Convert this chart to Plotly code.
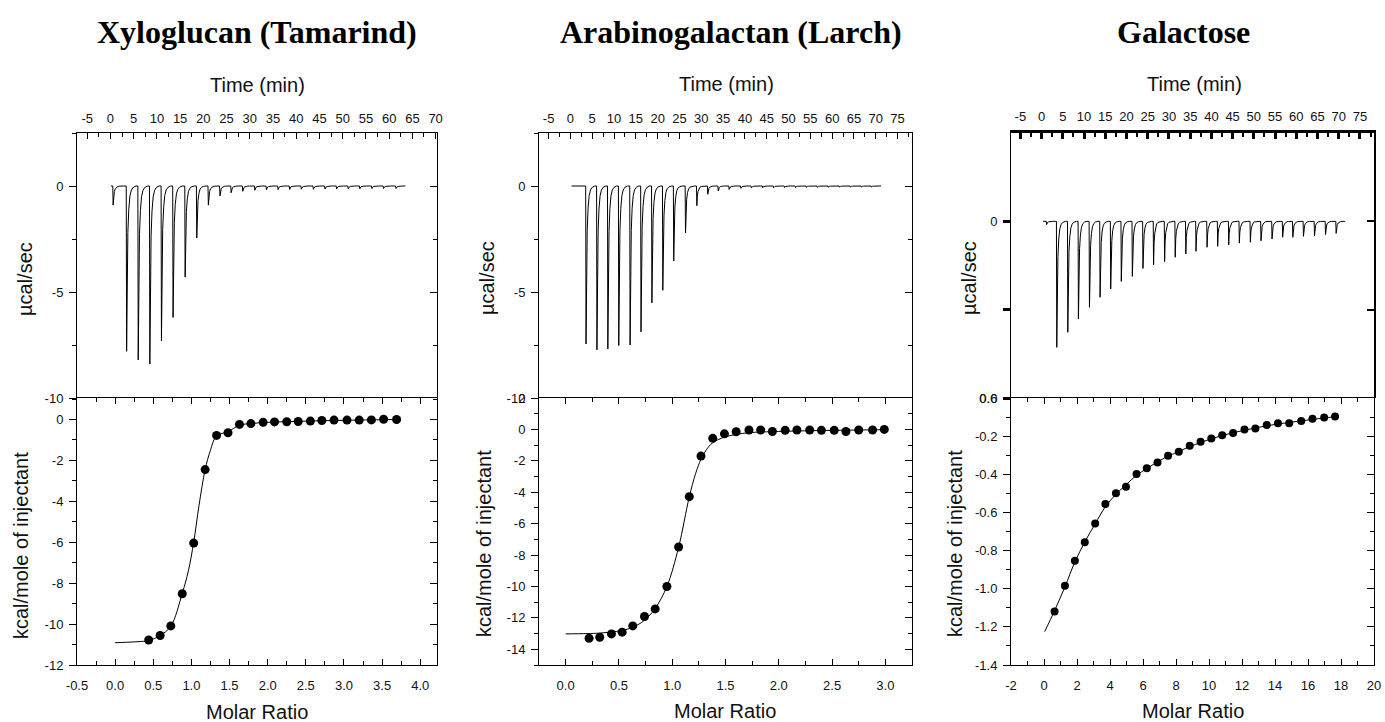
import plotly.graph_objects as go

W, H = 1385, 722

# ---------------- data ----------------
titles = ["Xyloglucan (Tamarind)", "Arabinogalactan (Larch)", "Galactose"]

# Raw thermograms: injection times (min) and peak minima (µcal/sec)
inj_t1 = [0.5, 3.4, 5.9, 8.4, 10.9, 13.4, 16.0, 18.5, 21.0, 23.5, 25.9, 28.4, 31.0,
          33.5, 36.0, 38.5, 41.0, 43.6, 46.1, 48.6, 51.1, 53.6, 56.2, 58.7, 61.4]
inj_d1 = [-0.9, -7.8, -8.2, -8.4, -7.3, -6.2, -4.3, -2.45, -0.9, -0.47, -0.32, -0.25, -0.2,
          -0.18, -0.17, -0.16, -0.15, -0.15, -0.14, -0.14, -0.13, -0.13, -0.12, -0.12, -0.12]
base1 = [0.1, 63.5]

inj_t2 = [3.5, 6.0, 8.5, 11.0, 13.6, 16.1, 18.6, 21.1, 23.6, 26.3, 28.9, 31.4, 33.8, 36.3,
          39.0, 41.4, 44.0, 46.5, 49.0, 51.5, 54.0, 56.5, 59.0, 61.6, 64.1, 66.6, 68.9]
inj_d2 = [-7.45, -7.73, -7.69, -7.53, -7.5, -6.88, -5.51, -4.92, -3.54, -2.22, -0.93, -0.39,
          -0.23, -0.16, -0.11, -0.09, -0.08, -0.08, -0.07, -0.07, -0.06, -0.06, -0.06, -0.05,
          -0.05, -0.05, -0.05]
base2 = [0.25, 71.2]

inj_t3 = [1.1, 3.5, 6.1, 8.6, 11.2, 13.7, 16.2, 18.7, 21.3, 23.8, 26.3, 28.9, 31.4, 33.9,
          36.3, 38.9, 41.4, 44.0, 46.5, 49.1, 51.6, 54.2, 56.7, 59.1, 61.6, 64.2, 66.8, 69.3]
inj_d3 = [-0.011, -0.428, -0.377, -0.332, -0.292, -0.258, -0.23, -0.204, -0.187, -0.16,
          -0.148, -0.137, -0.122, -0.111, -0.102, -0.088, -0.085, -0.08, -0.074, -0.071,
          -0.066, -0.06, -0.054, -0.054, -0.051, -0.049, -0.045, -0.041]
base3 = [0.34, 71.5]

# peak profile (relative time after injection, fraction of peak depth) - shape style
peak_dt = [0.0, 0.08, 0.2, 0.35, 0.55, 0.8, 1.1, 1.5, 2.1]
peak_fr = [0.0, 1.0, 0.5, 0.28, 0.14, 0.06, 0.025, 0.008, 0.0]

# Integrated heats (kcal/mole of injectant) vs molar ratio
mr1 = [0.44, 0.59, 0.73, 0.88, 1.03, 1.18, 1.33, 1.48, 1.63, 1.78, 1.94, 2.09, 2.25, 2.40,
       2.56, 2.71, 2.87, 3.04, 3.20, 3.36, 3.52, 3.69]
dh1 = [-10.78, -10.56, -10.09, -8.52, -6.04, -2.45, -0.78, -0.65, -0.24, -0.2, -0.14, -0.12,
       -0.11, -0.1, -0.08, -0.05, -0.03, -0.03, -0.03, -0.02, 0.01, 0.0]
fit1_x = [0.0, 0.15, 0.3, 0.44, 0.59, 0.73, 0.88, 0.96, 1.03, 1.1, 1.18, 1.25, 1.33, 1.48,
          1.63, 1.78, 2.0, 2.5, 3.0, 3.7]
fit1_y = [-10.91, -10.89, -10.86, -10.8, -10.56, -10.1, -8.5, -7.4, -6.0, -4.2, -2.45, -1.5,
          -0.8, -0.6, -0.28, -0.2, -0.14, -0.08, -0.04, 0.0]

mr2 = [0.22, 0.32, 0.43, 0.53, 0.63, 0.74, 0.84, 0.95, 1.06, 1.16, 1.27, 1.38, 1.49, 1.60,
       1.72, 1.83, 1.94, 2.06, 2.17, 2.29, 2.40, 2.52, 2.63, 2.75, 2.88, 2.99]
dh2 = [-13.3, -13.23, -13.02, -12.91, -12.51, -11.91, -11.43, -10.0, -7.49, -4.28, -1.70,
       -0.57, -0.28, -0.15, -0.04, -0.04, -0.13, -0.06, -0.04, -0.04, -0.06, -0.06, -0.13,
       -0.04, -0.04, 0.0]
fit2_x = [0.0, 0.2, 0.32, 0.43, 0.53, 0.63, 0.74, 0.84, 0.95, 1.06, 1.16, 1.22, 1.27, 1.32,
          1.38, 1.49, 1.6, 1.72, 2.0, 2.5, 3.0]
fit2_y = [-13.02, -13.0, -12.97, -12.9, -12.8, -12.6, -12.15, -11.4, -10.0, -7.5, -4.3, -2.8,
          -1.9, -1.3, -0.85, -0.49, -0.32, -0.21, -0.13, -0.06, -0.02]

mr3 = [0.64, 1.27, 1.87, 2.47, 3.10, 3.72, 4.36, 4.97, 5.61, 6.23, 6.88, 7.52, 8.17, 8.83,
       9.49, 10.14, 10.80, 11.46, 12.15, 12.81, 13.50, 14.18, 14.86, 15.59, 16.27, 16.98, 17.64]
dh3 = [-1.12, -0.984, -0.853, -0.757, -0.658, -0.556, -0.50, -0.466, -0.399, -0.368, -0.338,
       -0.303, -0.282, -0.251, -0.230, -0.212, -0.195, -0.183, -0.165, -0.16, -0.142, -0.132,
       -0.132, -0.12, -0.109, -0.102, -0.097]
fit3_x = [0.04, 0.64, 1.27, 1.87, 2.47, 3.10, 3.72, 4.36, 4.97, 5.61, 6.23, 6.88, 7.52, 8.17,
          8.83, 9.49, 10.14, 10.80, 11.46, 12.15, 12.81, 13.50, 14.18, 14.86, 15.59, 16.27,
          16.98, 17.64]
fit3_y = [-1.225, -1.115, -0.99, -0.86, -0.755, -0.66, -0.57, -0.505, -0.455, -0.405, -0.37,
          -0.335, -0.305, -0.28, -0.255, -0.233, -0.214, -0.197, -0.182, -0.169, -0.157,
          -0.146, -0.136, -0.128, -0.12, -0.112, -0.105, -0.098]

# tick values / labels
time_ticks = [[-5, 0, 5, 10, 15, 20, 25, 30, 35, 40, 45, 50, 55, 60, 65, 70],
              [-5, 0, 5, 10, 15, 20, 25, 30, 35, 40, 45, 50, 55, 60, 65, 70, 75],
              [-5, 0, 5, 10, 15, 20, 25, 30, 35, 40, 45, 50, 55, 60, 65, 70, 75]]
raw_ticks = [[-10, -5, 0], [-10, -5, 0], [-0.6, -0.3, 0.0]]
raw_labels = [["-10", "-5", "0"], ["-10", "-5", "0"], ["0.6", "", "0"]]
mr_ticks = [[-0.5, 0.0, 0.5, 1.0, 1.5, 2.0, 2.5, 3.0, 3.5, 4.0],
            [0.0, 0.5, 1.0, 1.5, 2.0, 2.5, 3.0],
            [-2, 0, 2, 4, 6, 8, 10, 12, 14, 16, 18, 20]]
heat_ticks = [[-12, -10, -8, -6, -4, -2, 0],
              [-14, -12, -10, -8, -6, -4, -2, 0, 2],
              [-1.4, -1.2, -1.0, -0.8, -0.6, -0.4, -0.2, 0.0]]

# ---------------- layout geometry (pixels) ----------------
cols = [(77, 437), (539, 912), (1011, 1374)]
top_y = (133, 398)
bot_y = (398, 665)

time_ranges = [[-7.2, 70.3], [-7.2, 78.3], [-7.2, 78.3]]
raw_ranges = [[-10, 2.5], [-10, 2.5], [-0.6, 0.3]]
raw_minor = [2.5, 2.5, None]
mr_ranges = [[-0.5, 4.22], [-0.25, 3.25], [-2, 20]]
mr_minor = [0.25, 0.25, 1]
heat_ranges = [[-12, 1.05], [-15, 2], [-1.4, 0.0]]
heat_minor = [1, 1, 0.1]
mr_fmt = ["{:.1f}", "{:.1f}", "{:d}"]
heat_fmt = ["{:d}", "{:d}", "{:.1f}"]

TICKFONT = dict(family="Liberation Sans", size=13, color="#111111")
TITLEFONT = dict(family="Liberation Sans", size=20, color="#111111")


def px_x(p):
    return p / W


def px_y(p):
    return 1 - p / H


def thermogram(ts, ds, base):
    xs, ys = [base[0]], [0.0]
    for t, d in zip(ts, ds):
        for dt, fr in zip(peak_dt, peak_fr):
            xs.append(t + dt)
            ys.append(d * fr)
    xs.append(base[1])
    ys.append(0.0)
    return xs, ys


def minor(direction, dt, width=1):
    if dt is None:
        return dict(ticks="", showgrid=False)
    return dict(ticks=direction, ticklen=4, dtick=dt, tick0=0, tickcolor="black",
                tickwidth=width, showgrid=False)


common = dict(showgrid=False, zeroline=False, automargin=False, tickcolor="black",
              linecolor="black", showline=True, tickfont=TICKFONT)

fig = go.Figure()
raw = [(inj_t1, inj_d1, base1), (inj_t2, inj_d2, base2), (inj_t3, inj_d3, base3)]
pts = [(mr1, dh1, fit1_x, fit1_y, 9), (mr2, dh2, fit2_x, fit2_y, 9), (mr3, dh3, fit3_x, fit3_y, 8)]

layout = {}
for i in range(3):
    it, ib = 2 * i + 1, 2 * i + 2
    ov_t, ov_b = 7 + 2 * i, 8 + 2 * i
    L, R = cols[i]
    gal = (i == 2)

    xs, ys = thermogram(*raw[i])
    fig.add_trace(go.Scatter(x=xs, y=ys, mode="lines", line=dict(color="black", width=1),
                             xaxis=f"x{it}", yaxis=f"y{it}", showlegend=False, hoverinfo="skip"))
    mx, my, fx, fy, ms = pts[i]
    fig.add_trace(go.Scatter(x=fx, y=fy, mode="lines", line=dict(color="black", width=1),
                             line_shape="spline",
                             xaxis=f"x{ib}", yaxis=f"y{ib}", showlegend=False, hoverinfo="skip"))
    fig.add_trace(go.Scatter(x=mx, y=my, mode="markers", marker=dict(color="black", size=ms),
                             xaxis=f"x{ib}", yaxis=f"y{ib}", showlegend=False))
    fig.add_trace(go.Scatter(x=[None], y=[None], xaxis=f"x{it}", yaxis=f"y{ov_t}",
                             showlegend=False, hoverinfo="skip"))
    fig.add_trace(go.Scatter(x=[None], y=[None], xaxis=f"x{ib}", yaxis=f"y{ov_b}",
                             showlegend=False, hoverinfo="skip"))

    dom_x = [px_x(L), px_x(R)]
    layout[f"xaxis{it}"] = dict(
        common, domain=dom_x, anchor=f"y{it}", side="top", range=time_ranges[i],
        tickvals=time_ticks[i], ticktext=[str(v) for v in time_ticks[i]],
        ticks="inside", ticklen=6, tickwidth=2.5 if gal else 1,
        linewidth=2.5 if gal else 1, mirror=False, ticklabelstandoff=4,
        minor=minor("inside", 2.5, 2 if gal else 1))
    layout[f"yaxis{it}"] = dict(
        common, domain=[px_y(top_y[1]), px_y(top_y[0])], anchor=f"x{it}",
        range=raw_ranges[i], tickvals=raw_ticks[i], ticktext=raw_labels[i],
        ticks="outside", ticklen=7, tickwidth=2.5 if gal else 1, linewidth=1,
        ticklabelstandoff=3, minor=minor("outside", raw_minor[i]))
    layout[f"yaxis{ov_t}"] = dict(
        common, overlaying=f"y{it}", side="right", anchor=f"x{it}", range=raw_ranges[i],
        tickvals=raw_ticks[i], ticks="inside", ticklen=7, tickwidth=2 if gal else 1,
        linewidth=2 if gal else 1, showticklabels=False, minor=minor("inside", raw_minor[i]))

    layout[f"xaxis{ib}"] = dict(
        common, domain=dom_x, anchor=f"y{ib}", side="bottom", range=mr_ranges[i],
        tickvals=mr_ticks[i], ticktext=[mr_fmt[i].format(v) for v in mr_ticks[i]],
        ticks="inside", ticklen=6, linewidth=1, mirror="ticks", ticklabelstandoff=8,
        minor=minor("inside", mr_minor[i]))
    layout[f"yaxis{ib}"] = dict(
        common, domain=[px_y(bot_y[1]), px_y(bot_y[0])], anchor=f"x{ib}",
        range=heat_ranges[i], tickvals=heat_ticks[i],
        ticktext=[heat_fmt[i].format(v) for v in heat_ticks[i]],
        ticks="outside", ticklen=7, linewidth=1, ticklabelstandoff=3,
        minor=minor("outside", heat_minor[i]))
    layout[f"yaxis{ov_b}"] = dict(
        common, overlaying=f"y{ib}", side="right", anchor=f"x{ib}", range=heat_ranges[i],
        tickvals=heat_ticks[i], ticks="inside", ticklen=7, linewidth=1,
        showticklabels=False, minor=minor("inside", heat_minor[i]))

# ---------------- text annotations ----------------
ann = []
title_pos = [(257, 32), (731, 32), (1183, 32)]
time_pos = [(257, 85), (726, 84), (1194, 84)]
ucal_pos = [(25, 279), (487, 278), (969, 278)]
kcal_pos = [(21, 546), (484, 544), (955, 544)]
molar_pos = [(257, 712), (725, 711), (1193, 711)]
for i in range(3):
    ann.append(dict(text=f"<b>{titles[i]}</b>", x=px_x(title_pos[i][0]), y=px_y(title_pos[i][1]),
                    xref="paper", yref="paper", showarrow=False, xanchor="center", yanchor="middle",
                    font=dict(family="Liberation Serif", size=32, color="black")))
    ann.append(dict(text="Time (min)", x=px_x(time_pos[i][0]), y=px_y(time_pos[i][1]),
                    xref="paper", yref="paper", showarrow=False, xanchor="center",
                    yanchor="middle", font=TITLEFONT))
    ann.append(dict(text="µcal/sec", x=px_x(ucal_pos[i][0]), y=px_y(ucal_pos[i][1]),
                    xref="paper", yref="paper", showarrow=False, textangle=-90,
                    xanchor="center", yanchor="middle", font=TITLEFONT))
    ann.append(dict(text="kcal/mole of injectant", x=px_x(kcal_pos[i][0]),
                    y=px_y(kcal_pos[i][1]), xref="paper", yref="paper", showarrow=False,
                    textangle=-90, xanchor="center", yanchor="middle", font=TITLEFONT))
    ann.append(dict(text="Molar Ratio", x=px_x(molar_pos[i][0]), y=px_y(molar_pos[i][1]),
                    xref="paper", yref="paper", showarrow=False, xanchor="center",
                    yanchor="middle", font=TITLEFONT))

fig.update_layout(width=W, height=H, margin=dict(l=0, r=0, t=0, b=0, autoexpand=False),
                  paper_bgcolor="white", plot_bgcolor="white", annotations=ann,
                  showlegend=False, **layout)
fig.write_html("out.html", config={"displayModeBar": False},
               post_script="document.body.style.margin='0';document.body.style.overflow='hidden';")
